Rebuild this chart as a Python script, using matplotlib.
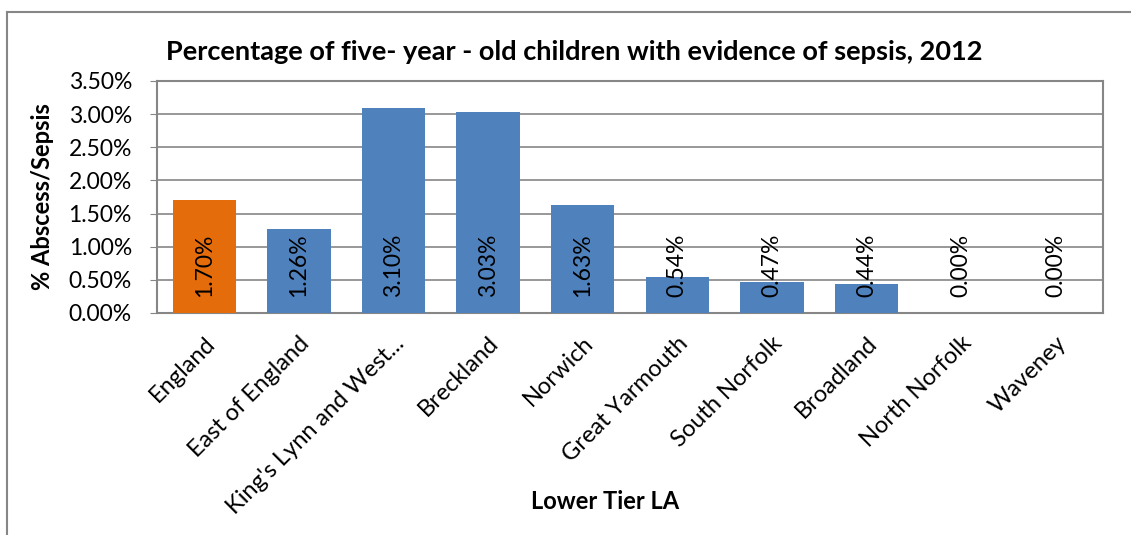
import matplotlib.pyplot as plt
from matplotlib.lines import Line2D
from matplotlib.ticker import PercentFormatter

plt.rcParams["font.family"] = ["Lato", "DejaVu Sans"]

areas = ["England", "East of England", "King's Lynn and West...", "Breckland",
         "Norwich", "Great Yarmouth", "South Norfolk", "Broadland",
         "North Norfolk", "Waveney"]
sepsis_pct = [1.70, 1.26, 3.10, 3.03, 1.63, 0.54, 0.47, 0.44, 0.00, 0.00]
bar_colors = ["#E46C0A"] + ["#4F81BD"] * 9

fig = plt.figure(figsize=(11.31, 5.35), dpi=100)
ax = fig.add_axes([0.1388, 0.415, 0.8364, 0.4336])

x = range(len(areas))
ax.bar(x, sepsis_pct, width=0.67, color=bar_colors, zorder=3)

# data labels, rotated, sitting at the bar base
for xi, v in zip(x, sepsis_pct):
    ax.annotate(f"{v:.2f}%", (xi, 0), xytext=(0, 16), textcoords="offset pixels",
                rotation=90, ha="center", va="bottom", fontsize=16.5, zorder=4)

ax.set_xlim(-0.5, len(areas) - 0.5)
ax.set_ylim(0, 3.5)
ax.set_yticks([i * 0.5 for i in range(8)])
ax.yaxis.set_major_formatter(PercentFormatter(decimals=2))
ax.grid(axis="y", color="#868686", linewidth=1.2, zorder=0)
for s in ax.spines.values():
    s.set_color("#868686")
    s.set_linewidth(1.5)

ax.tick_params(axis="y", labelsize=16.5, length=5, color="#868686", pad=13)
ax.tick_params(axis="x", length=0, pad=14)
ax.set_xticks(list(x))
ax.set_xticklabels(areas, rotation=45, ha="right", rotation_mode="anchor", fontsize=17)

fig.text(43 / 1131, 0.632, "% Abscess/Sepsis", rotation=90, ha="center", va="center",
         fontsize=17, fontweight="bold")
fig.text(0.535, 0.062, "Lower Tier LA", ha="center", va="center",
         fontsize=17, fontweight="bold")
fig.text(0.508, 0.902, "Percentage of five- year - old children with evidence of sepsis, 2012",
         ha="center", va="center", fontsize=19.5, fontweight="bold")

# chart-area border (top and left edges only visible)
fig.add_artist(Line2D([7 / 1131, 1.0], [1 - 12 / 535, 1 - 12 / 535],
                      transform=fig.transFigure, color="#868686", linewidth=1.5))
fig.add_artist(Line2D([7 / 1131, 7 / 1131], [0.0, 1 - 12 / 535],
                      transform=fig.transFigure, color="#868686", linewidth=1.5))

plt.savefig("out.png", dpi=100)
plt.close()
